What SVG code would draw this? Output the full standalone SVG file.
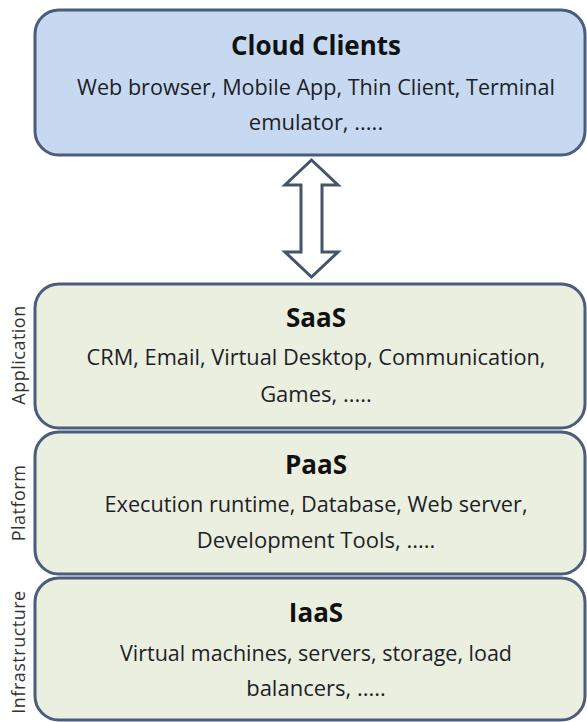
<svg xmlns="http://www.w3.org/2000/svg" width="587" height="722" viewBox="0 0 587 722">
<style>
.box{stroke:#4a5d7c;stroke-width:3}
.blue{fill:#c6d9f1}
.green{fill:#eaefdf}
.t{font-family:"Open Sans","Liberation Sans",sans-serif;font-weight:bold;font-size:26px;fill:#111;text-anchor:middle}
.s{font-family:"Open Sans","Liberation Sans",sans-serif;font-size:22px;fill:#1e1e28;text-anchor:middle}
.v{font-family:"Open Sans","Liberation Sans",sans-serif;font-size:18px;letter-spacing:0.5px;fill:#333;text-anchor:middle}
</style>
<rect width="587" height="722" fill="#ffffff"/>
<g id="connectors">
<path d="M311.5,160 L338,185 L322,185 L322,252 L338,252 L311.5,277 L285,252 L301,252 L301,185 L285,185 Z" fill="#ffffff" stroke="#44546a" stroke-width="3" stroke-linejoin="miter"/>
</g>
<g id="cloud-clients">
<rect class="box blue" x="35" y="10" width="550" height="145" rx="24"/>
<text class="t" x="316" y="55">Cloud Clients</text>
<text class="s" x="316" y="95" textLength="478" lengthAdjust="spacingAndGlyphs">Web browser, Mobile App, Thin Client, Terminal</text>
<text class="s" x="316" y="130">emulator, .....</text>
</g>
<g id="saas">
<rect class="box green" x="35" y="284" width="550" height="144" rx="24"/>
<text class="t" x="316" y="327">SaaS</text>
<text class="s" x="316" y="365" textLength="459" lengthAdjust="spacingAndGlyphs">CRM, Email, Virtual Desktop, Communication,</text>
<text class="s" x="316" y="402">Games, .....</text>
</g>
<g id="paas">
<rect class="box green" x="35" y="432" width="550" height="142" rx="24"/>
<text class="t" x="316" y="474">PaaS</text>
<text class="s" x="316" y="512" textLength="423" lengthAdjust="spacingAndGlyphs">Execution runtime, Database, Web server,</text>
<text class="s" x="316" y="548">Development Tools, .....</text>
</g>
<g id="iaas">
<rect class="box green" x="35" y="578" width="550" height="142" rx="24"/>
<text class="t" x="316" y="622">IaaS</text>
<text class="s" x="316" y="661" textLength="392" lengthAdjust="spacingAndGlyphs">Virtual machines, servers, storage, load</text>
<text class="s" x="316" y="696">balancers, .....</text>
</g>
<g id="layer-labels">
<text class="v" transform="translate(25,355) rotate(-90)">Application</text>
<text class="v" transform="translate(25,503) rotate(-90)">Platform</text>
<text class="v" transform="translate(25,652) rotate(-90)">Infrastructure</text>
</g>
</svg>
